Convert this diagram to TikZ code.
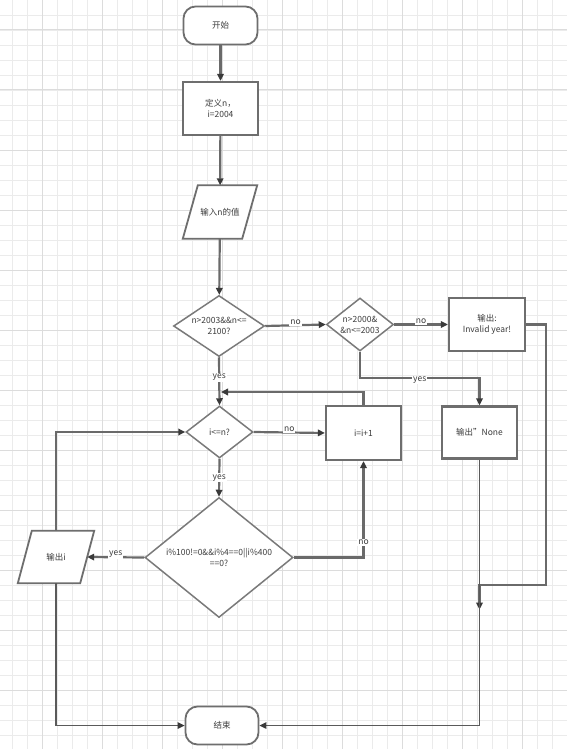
\documentclass[tikz,border=0pt]{standalone}
\usepackage{fontspec}
\setmainfont{Noto Sans CJK SC}
\usetikzlibrary{arrows.meta,shapes.geometric,calc}
\definecolor{gridminor}{HTML}{EBEBEB}
\definecolor{gridmajor}{HTML}{DCDCDC}
\definecolor{boxc}{HTML}{6E6E6E}
\definecolor{diac}{HTML}{7A7A7A}
\definecolor{linec}{HTML}{6A6A6A}
\definecolor{tipc}{HTML}{3A3A3A}
\definecolor{txtc}{HTML}{3C3C3C}
\newcommand\mylbl{\fontsize{8.5}{11}\selectfont}
\pgfdeclarelayer{gridlayer}
\pgfdeclarelayer{bglayer}
\pgfsetlayers{gridlayer,bglayer,main}
\tikzset{
  txt/.style={font=\mylbl, text=txtc, align=center, inner sep=0pt},
  procbox/.style={txt, draw=boxc, line width=2.2pt, fill=white, minimum width=75pt, minimum height=53pt},
  term/.style={txt, draw=boxc, line width=1.8pt, fill=white, rounded corners=12pt, minimum width=74pt, minimum height=38pt},
  dia/.style={diamond, draw=diac, line width=1.5pt, fill=white, inner sep=0pt},
  paraholder/.style={txt, minimum height=53pt},
  parashape/.style={draw=boxc, line width=1.8pt, fill=white},
  conn/.style={draw=linec, line width=2.2pt, -{Triangle[length=7pt,width=6.5pt,color=tipc]}},
  thinconn/.style={draw=linec!85!black, line width=1.3pt, -{Triangle[length=7pt,width=6.5pt,color=tipc]}},
  lab/.style={font=\mylbl, text=txtc, fill=white, inner sep=1pt},
}
\begin{document}
\begin{tikzpicture}[x=1pt,y=-1pt]
\useasboundingbox (0,0) rectangle (567,749);
\begin{pgfonlayer}{gridlayer}
\fill[white] (0,0) rectangle (567,749);
\foreach \x in {12,27,...,567} \draw[gridminor, line width=0.8pt] (\x,0) -- (\x,749);
\foreach \y in {15,30,...,749} \draw[gridminor, line width=0.8pt] (0,\y) -- (567,\y);
\foreach \x in {42,102,...,567} \draw[gridmajor, line width=1pt] (\x,0) -- (\x,749);
\foreach \y in {30,90,...,749} \draw[gridmajor, line width=1pt] (0,\y) -- (567,\y);
\end{pgfonlayer}

% nodes
\node[term] (st) at (220.5,25.5) {开始};
\node[procbox] (def) at (220.5,108.5) {定义n，\\ i=2004};
\node[paraholder, minimum width=59pt] (inp) at (220,212) {输入n的值};
\node[dia, minimum width=91pt, minimum height=61pt] (d1) at (219,326) {};
\node[txt] (d1t) at (d1) {n>2003\&\&n<=\\2100?};
\node[dia, minimum width=67pt, minimum height=53pt] (d2) at (360,324.5) {};
\node[txt] (d2t) at (d2) {n>2000\&\\\&n<=2003};
\node[procbox, minimum width=76pt] (inv) at (487,324.5) {输出:\\Invalid year!};
\node[procbox, minimum width=75pt, minimum height=52pt] (none) at (479.5,432.5) {输出"None};
\node[dia, minimum width=67pt, minimum height=52pt] (cmp) at (219.5,432) {};
\node[txt] (cmpt) at (cmp) {i<=n?};
\node[procbox, minimum width=75pt, minimum height=54pt] (inc) at (363.5,433) {i=i+1};
\node[dia, minimum width=148pt, minimum height=120pt] (big) at (219,557.5) {};
\node[txt] (bigt) at (big) {i\%100!=0\&\&i\%4==0||i\%400\\==0?};
\node[paraholder, minimum width=62pt, minimum height=52pt] (out) at (56,557) {输出i};
\node[term, minimum width=73pt] (end) at (222,725.5) {结束};

\begin{pgfonlayer}{bglayer}
\draw[parashape] ($(inp.north west)+(7.5,0)$) -- ($(inp.north east)+(7.5,0)$) -- ($(inp.south east)-(7.5,0)$) -- ($(inp.south west)-(7.5,0)$) -- cycle;
\draw[parashape] ($(out.north west)+(7,0)$) -- ($(out.north east)+(7,0)$) -- ($(out.south east)-(7,0)$) -- ($(out.south west)-(7,0)$) -- cycle;
\end{pgfonlayer}

% connectors
\draw[conn] (st) -- (def);
\draw[conn] (def) -- (inp);
\draw[conn] (inp) -- (d1);
\draw[conn] (d1.east) -- node[lab, yshift=3pt] {no} (d2.west);
\draw[conn] (d2.east) -- node[lab, yshift=3pt] {no} (inv.west);
\coordinate (c1) at (360,378);
\draw[conn] (d2.south) -- (c1) -| node[lab, pos=0.25, yshift=-2pt] {yes} (none.north);
\coordinate (c2) at (546,585);
\path (none.south) ++(0,150) coordinate (c3);
\draw[conn] (inv.east) -| (c2) -| (c3);
\draw[thinconn] (none.south) |- (end.east);
\draw[conn] (d1.south) -- node[lab, pos=0.42] {yes} (cmp.north);
\coordinate (j1) at (221,392);
\draw[conn] (inc.north) |- (j1);
\draw[conn] (cmp.east) -- node[lab, yshift=3pt] {no} (inc.west);
\draw[conn] (cmp.south) -- node[lab] {yes} (big.north);
\draw[conn] (big.east) -| node[lab, pos=0.58] {no} (inc.south);
\draw[conn] (big.west) -- node[lab, yshift=3pt] {yes} (out.east);
\draw[conn] (out.north) |- (cmp.west);
\draw[thinconn] (out.south) |- (end.west);
\end{tikzpicture}
\end{document}
